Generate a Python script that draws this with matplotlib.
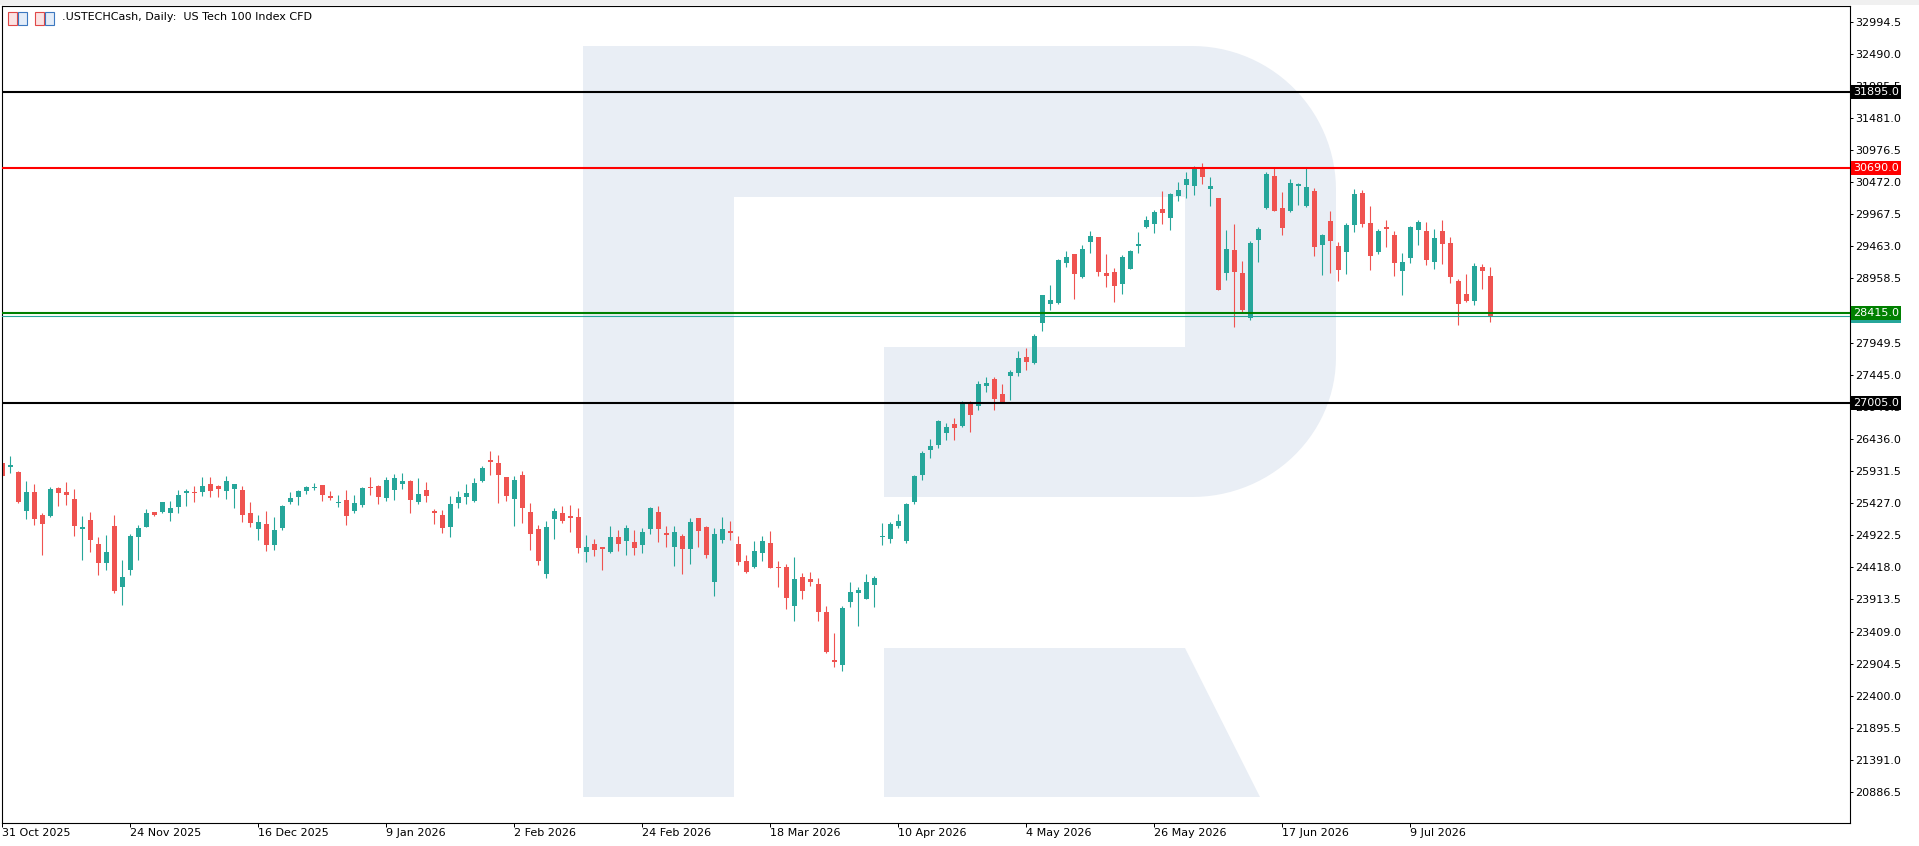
import numpy as np
import matplotlib
matplotlib.use('Agg')
import matplotlib.pyplot as plt
import matplotlib.transforms as mtransforms
from matplotlib.patches import Polygon, Rectangle

W, H = 1919, 846

################################################################
# Daily OHLC, .USTECHCash, 31 Oct 2025 .. 23 Jul 2026
opens = [26058, 26001, 25917, 25309, 25602, 25241, 25225, 25665, 25602, 25492,
         25021, 25162, 24785, 24486, 25068, 24109, 24376, 24895, 25052, 25288,
         25288, 25272, 25367, 25587, 25602, 25602, 25728, 25697, 25618, 25650,
         25634, 25272, 25021, 25099, 24769, 25036, 25445, 25524, 25618, 25665,
         25712, 25540, 25435, 25477, 25304, 25398, 25681, 25697, 25508, 25634,
         25728, 25775, 25445, 25634, 25304, 25241, 25052, 25429, 25524, 25461,
         25775, 26105, 26058, 25838, 25492, 25870, 25288, 25021, 24313, 25178,
         25272, 25225, 25209, 24659, 24785, 24738, 24659, 24895, 24832, 24816,
         24769, 25021, 25288, 24958, 24738, 24911, 24706, 25194, 25052, 24188,
         24840, 24997, 24782, 24514, 24423, 24651, 24795, 24416, 24416, 23810,
         24273, 24227, 24149, 23712, 22968, 22883, 23875, 24012, 23927, 24136,
         24893, 24860, 25062, 24827, 25440, 25864, 26256, 26334, 26523, 26667,
         26634, 26993, 26954, 27273, 27378, 27136, 27423, 27469, 27723, 27626,
         28265, 28565, 28578, 29198, 29341, 28983, 29530, 29609, 29041, 29061,
         28878, 29113, 29472, 29765, 29817, 30052, 29915, 30248, 30431, 30418,
         30685, 30359, 30222, 29048, 29406, 29041, 28343, 29569, 30065, 30567,
         30065, 30026, 30411, 30098, 30333, 29491, 29863, 29465, 29380, 29798,
         30307, 29831, 29374, 29765, 29641, 29074, 29276, 29720, 29707, 29217,
         29707, 29517, 28917, 28715, 28604, 29139, 28995]
highs = [26065, 26168, 25932, 25775, 25728, 25272, 25681, 25681, 25760, 25650,
         25225, 25288, 24895, 24926, 25241, 24533, 24942, 25084, 25335, 25295,
         25450, 25461, 25634, 25650, 25697, 25838, 25838, 25712, 25854, 25735,
         25697, 25445, 25241, 25304, 25209, 25398, 25602, 25634, 25697, 25744,
         25718, 25618, 25555, 25634, 25555, 25681, 25838, 25705, 25838, 25885,
         25901, 25791, 25822, 25760, 25335, 25319, 25540, 25618, 25728, 25822,
         26011, 26247, 26184, 25845, 25854, 25932, 25429, 25084, 25146, 25351,
         25382, 25398, 25351, 24926, 24863, 24745, 25068, 25005, 25084, 25005,
         25036, 25367, 25382, 25068, 25068, 24942, 25194, 25200, 25060, 25036,
         25206, 25153, 24912, 24619, 24827, 24906, 24997, 24521, 24469, 24573,
         24325, 24351, 24247, 23803, 23392, 23816, 24181, 24110, 24312, 24279,
         25108, 25127, 25251, 25427, 25864, 26243, 26432, 26732, 26693, 26771,
         27032, 27032, 27345, 27417, 27404, 27300, 27515, 27815, 27861, 28089,
         28705, 28852, 29269, 29387, 29350, 29485, 29707, 29615, 29341, 29119,
         29322, 29406, 29687, 29941, 30039, 30333, 30300, 30470, 30639, 30731,
         30776, 30561, 30230, 29720, 29811, 29230, 29543, 29772, 30639, 30711,
         30320, 30522, 30463, 30711, 30378, 29661, 30020, 29530, 29831, 30365,
         30352, 30098, 29739, 29876, 29707, 29361, 29791, 29876, 29843, 29739,
         29876, 29609, 28950, 29035, 29198, 29185, 29139]
lows = [25850, 25906, 25429, 25178, 25084, 24612, 25215, 25382, 25398, 24911,
        24533, 24659, 24298, 24376, 24015, 23826, 24298, 24533, 25045, 25225,
        25272, 25146, 25272, 25382, 25445, 25540, 25524, 25524, 25492, 25351,
        25131, 25052, 24848, 24675, 24691, 25005, 25414, 25398, 25571, 25634,
        25461, 25477, 25367, 25084, 25272, 25367, 25555, 25414, 25461, 25477,
        25650, 25272, 25414, 25445, 25099, 24958, 24895, 25351, 25414, 25445,
        25765, 25870, 25429, 25461, 25068, 25115, 24691, 24455, 24250, 24863,
        25115, 24974, 24643, 24502, 24596, 24376, 24643, 24675, 24612, 24612,
        24643, 24942, 24816, 24738, 24439, 24313, 24470, 24738, 24565, 23967,
        24795, 24847, 24455, 24325, 24413, 24521, 24400, 24116, 23764, 23575,
        23927, 24129, 23575, 23079, 22851, 22786, 23797, 23497, 23914, 23797,
        24769, 24801, 25042, 24801, 25414, 25786, 26138, 26295, 26425, 26425,
        26625, 26543, 26895, 27176, 26889, 26998, 27045, 27423, 27521, 27615,
        28128, 28461, 28565, 29139, 28637, 28970, 29367, 28995, 28826, 28591,
        28721, 29100, 29367, 29752, 29674, 29811, 29713, 30170, 30222, 30274,
        30450, 30104, 28770, 28937, 28193, 28435, 28304, 29217, 30045, 30013,
        29641, 30000, 30111, 30078, 29308, 29008, 29041, 28917, 29035, 29694,
        29765, 29093, 29341, 29459, 29002, 28696, 29198, 29485, 29178, 29106,
        29191, 28885, 28226, 28585, 28539, 28793, 28271]
closes = [25859, 26032, 25445, 25602, 25178, 25105, 25650, 25587, 25555, 25068,
          25052, 24848, 24486, 24659, 24046, 24266, 24911, 25036, 25272, 25241,
          25445, 25351, 25555, 25618, 25587, 25697, 25618, 25650, 25775, 25728,
          25241, 25115, 25131, 24769, 25005, 25382, 25508, 25618, 25681, 25681,
          25555, 25508, 25445, 25225, 25429, 25665, 25665, 25524, 25791, 25822,
          25775, 25477, 25571, 25540, 25272, 25036, 25414, 25524, 25587, 25744,
          25980, 26074, 25870, 25540, 25791, 25351, 24942, 24518, 25052, 25304,
          25146, 25194, 24722, 24738, 24691, 24706, 24895, 24785, 25036, 24722,
          24974, 25351, 25021, 24926, 24974, 24706, 25131, 24989, 24612, 24942,
          25016, 24951, 24501, 24345, 24677, 24827, 24410, 24403, 23934, 24227,
          24045, 24188, 23718, 23092, 22929, 23771, 24038, 24058, 24195, 24247,
          24912, 25095, 25140, 25414, 25851, 26210, 26321, 26712, 26621, 26602,
          27006, 26817, 27300, 27313, 27058, 27006, 27482, 27704, 27652, 28050,
          28696, 28617, 29250, 29296, 29035, 29420, 29628, 29067, 29002, 28845,
          29296, 29387, 29498, 29876, 30000, 29994, 30287, 30352, 30522, 30678,
          30561, 30411, 28780, 29420, 29067, 28461, 29517, 29733, 30600, 30026,
          29752, 30457, 30437, 30398, 29452, 29641, 29543, 29093, 29798, 30294,
          29817, 29308, 29707, 29733, 29198, 29217, 29765, 29843, 29250, 29596,
          29498, 28983, 28558, 28604, 29152, 29074, 28363]

date_labels = ['31 Oct 2025', '24 Nov 2025', '16 Dec 2025', '9 Jan 2026',
               '2 Feb 2026', '24 Feb 2026', '18 Mar 2026', '10 Apr 2026',
               '4 May 2026', '26 May 2026', '17 Jun 2026', '9 Jul 2026']
label_step = 16      # bars between date labels

level_prices = [31895.0, 30690.0, 28415.0, 27005.0]
level_colors = ['#000000', '#ff0000', '#008000', '#000000']

y_tick_top = 32994.5
y_tick_step = 504.5
y_tick_count = 25

title = '.USTECHCash, Daily:  US Tech 100 Index CFD'

BULL = '#26a69a'
BEAR = '#ef5350'
LOGO = '#e9eef5'


def fpx(x, y):
    # figure pixel (y from top) -> figure fraction
    return (x / W, 1 - y / H)


def main():
    fig = plt.figure(figsize=(W / 100, H / 100), dpi=100, facecolor='white')
    ax = fig.add_axes([2 / W, 23 / H, 1848 / W, 817 / H])
    ax.set_facecolor('white')

    n = len(closes)
    x = np.arange(n)
    o = np.array(opens, float)
    c = np.array(closes, float)
    hi = np.array(highs, float)
    lo = np.array(lows, float)

    ax.set_xlim(-0.04, 230.96)
    ax.set_ylim(20399, 33242)

    ############## watermark "R" ##############
    stem = [(583, 46), (734, 46), (734, 797), (583, 797)]
    t1 = np.linspace(np.pi / 2, 0, 30)
    arc1 = [(1192 + 144 * np.cos(t), 190 - 144 * np.sin(t)) for t in t1]
    t2 = np.linspace(0, -np.pi / 2, 30)
    arc2 = [(1192 + 144 * np.cos(t), 357 - 140 * np.sin(t)) for t in t2]
    bowl = [(734, 46), (1192, 46)] + arc1 + [(1336, 357)] + arc2 + \
           [(884, 497), (884, 347), (1185, 347), (1185, 197), (734, 197)]
    leg = [(884, 648), (1185, 648), (1260, 797), (884, 797)]
    for shape in (stem, bowl, leg):
        ax.add_patch(Polygon([fpx(px, py) for px, py in shape], closed=True,
                             transform=fig.transFigure, fc=LOGO, ec='none',
                             zorder=0.5))

    ############## candles ##############
    cols = np.where(c >= o, BULL, BEAR)
    ax.vlines(x, lo, hi, colors=cols, lw=0.8, zorder=2)
    body_h = np.maximum(np.abs(c - o), 16)
    ax.bar(x, body_h, bottom=np.minimum(o, c), width=0.625, color=cols,
           linewidth=0, zorder=2.1)

    ############## levels ##############
    for v, col in zip(level_prices, level_colors):
        ax.axhline(v, color=col, lw=1.5, zorder=3)
    ax.axhline(c[-1], color=BULL, lw=0.8, zorder=3)

    trans = mtransforms.blended_transform_factory(ax.transAxes, ax.transData)
    boxes = [(c[-1], BULL)] + list(zip(level_prices, level_colors))
    for v, col in boxes:
        ax.text(1.0016, v, '%.1f' % v, transform=trans, ha='left', va='center',
                color='white', fontsize=8, clip_on=False, zorder=10,
                bbox=dict(boxstyle='square,pad=0.18', fc=col, ec='none'))

    ############## axes ##############
    yt = [y_tick_top - k * y_tick_step for k in range(y_tick_count)]
    ax.set_yticks(yt)
    ax.set_yticklabels(['%.1f' % v for v in yt])
    ax.yaxis.tick_right()
    ax.tick_params(axis='y', direction='out', length=2.2, width=0.72,
                   pad=1.2, labelsize=8, colors='black')

    ax.set_xticks(np.arange(0, n, label_step))
    ax.set_xticklabels(date_labels)
    ax.tick_params(axis='x', direction='out', length=3, width=0.72,
                   pad=0.5, labelsize=8, colors='black')
    for lbl in ax.get_xticklabels():
        lbl.set_ha('left')

    for sp in ax.spines.values():
        sp.set_color('black')
        sp.set_linewidth(0.8)

    ############## header ##############
    fig.patches.append(Rectangle(fpx(0, 5), 1, 5 / H, transform=fig.transFigure,
                                 fc='#f0f0f0', ec='none'))
    for x0, c1, c2 in ((8, '#fbe3e3', '#e3ecf8'), (35, '#fbe3e3', '#e3ecf8')):
        fig.patches.append(Rectangle(fpx(x0, 25), 9 / W, 13 / H,
                                     transform=fig.transFigure, fc=c1,
                                     ec='#e04848', lw=0.8))
        fig.patches.append(Rectangle(fpx(x0 + 10, 25), 9 / W, 13 / H,
                                     transform=fig.transFigure, fc=c2,
                                     ec='#3c78c0', lw=0.8))
    fig.text(62 / W, 1 - 17 / H, title, fontsize=8, va='center', ha='left',
             color='black')

    fig.savefig('out.png', dpi=100, facecolor='white')


if __name__ == '__main__':
    main()
